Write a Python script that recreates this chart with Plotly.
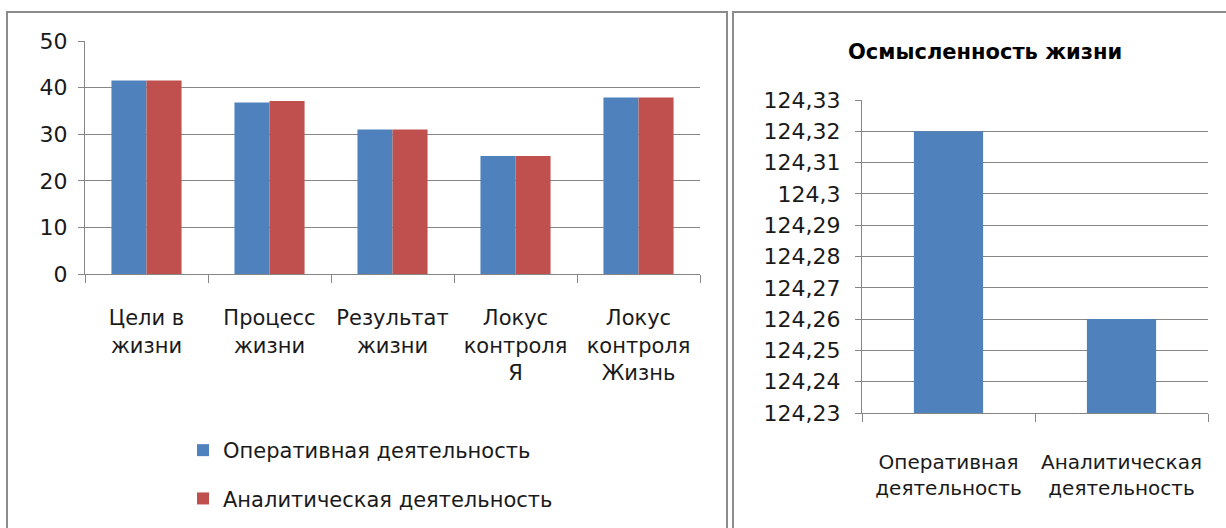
import plotly.graph_objects as go

# data
categories = ["Цели в<br>жизни", "Процесс<br>жизни", "Результат<br>жизни",
              "Локус<br>контроля<br>Я", "Локус<br>контроля<br>Жизнь"]
operative = [41.5, 36.8, 31.0, 25.3, 37.9]
analytic = [41.5, 37.1, 31.0, 25.3, 37.9]
series_names = ["Оперативная деятельность", "Аналитическая деятельность"]

meaning_cats = ["Оперативная<br>деятельность", "Аналитическая<br>деятельность"]
meaning_vals = [124.32, 124.26]
meaning_title = "Осмысленность жизни"

W, H = 1226, 528
BLUE = "#4F81BD"
RED = "#C0504D"
GRID = "#868686"
FONT = "DejaVu Sans, sans-serif"


def px(x):
    return x / W


def py(y):
    return 1 - y / H


fig = go.Figure()

fig.add_trace(go.Bar(x=categories, y=operative, name=series_names[0], marker_color=BLUE,
                     marker_line_width=0, legendgroup="a", xaxis="x", yaxis="y"))
fig.add_trace(go.Bar(x=categories, y=analytic, name=series_names[1], marker_color=RED,
                     marker_line_width=0, legendgroup="b", xaxis="x", yaxis="y"))
fig.add_trace(go.Bar(x=meaning_cats, y=meaning_vals, marker_color=BLUE, marker_line_width=0,
                     width=0.4, showlegend=False, xaxis="x2", yaxis="y2"))

fig.update_layout(
    width=W, height=H,
    margin=dict(l=0, r=0, t=0, b=0),
    paper_bgcolor="white", plot_bgcolor="white",
    font=dict(family=FONT, size=21, color="#1a1a1a"),
    separators=",.",
    barmode="group", bargap=0.43, bargroupgap=0,
    showlegend=True,
    legend=dict(x=px(183), y=py(430), xanchor="left", yanchor="top",
                orientation="v", tracegroupgap=18, font=dict(size=21),
                itemwidth=30, bgcolor="rgba(0,0,0,0)"),
    xaxis=dict(domain=[px(85), px(700)], anchor="y", type="category",
               showline=True, linecolor=GRID, linewidth=1, automargin=False,
               ticks="outside", ticklen=8, tickcolor=GRID, tickson="boundaries",
               ticklabelstandoff=25, tickangle=0, showgrid=False),
    yaxis=dict(domain=[py(274), py(41)], anchor="x", range=[0, 50], dtick=10,
               showline=True, linecolor=GRID, linewidth=1, automargin=False,
               ticks="outside", ticklen=6, tickcolor=GRID, tickfont=dict(size=22),
               gridcolor=GRID, gridwidth=1, zeroline=False, ticklabelstandoff=6),
    xaxis2=dict(domain=[px(862), px(1208)], anchor="y2", type="category",
                showline=True, linecolor=GRID, linewidth=1, automargin=False,
                ticks="outside", ticklen=8, tickcolor=GRID, tickson="boundaries",
                ticklabelstandoff=31, tickangle=0, tickfont=dict(size=20), showgrid=False),
    yaxis2=dict(domain=[py(413), py(100)], anchor="x2", range=[124.23, 124.33],
                tick0=124.23, dtick=0.01,
                showline=True, linecolor=GRID, linewidth=1, automargin=False,
                ticks="outside", ticklen=6, tickcolor=GRID, tickfont=dict(size=22),
                gridcolor=GRID, gridwidth=1, zeroline=False, ticklabelstandoff=10),
)

# chart frames
for x0, x1 in [(7, 727), (733, 1232)]:
    fig.add_shape(type="rect", xref="paper", yref="paper",
                  x0=px(x0), x1=px(x1), y0=py(535), y1=py(12),
                  line=dict(color="#8c8c8c", width=2), layer="below")

fig.add_annotation(text="<b>" + meaning_title + "</b>", xref="paper", yref="paper",
                   x=px(985), y=py(52), xanchor="center", yanchor="middle",
                   showarrow=False, font=dict(size=21, color="black"))

fig.write_html("out.html", config={"displayModeBar": False},
               post_script="document.body.style.margin='0';")
